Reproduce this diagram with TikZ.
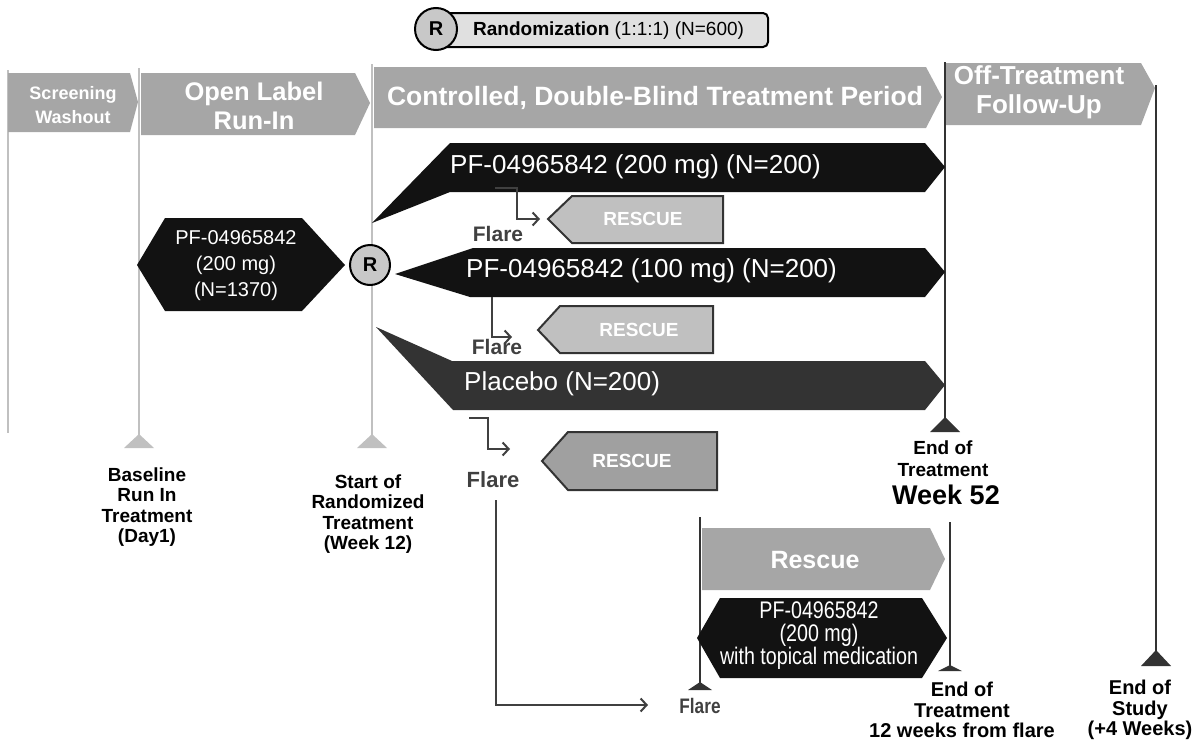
\documentclass[tikz,border=0pt]{standalone}
\usepackage{fontspec}
\setmainfont{Liberation Sans}
\newfontfamily\narrowfont[FakeStretch=0.82]{Liberation Sans}
\usetikzlibrary{arrows.meta}
\definecolor{hdr}{HTML}{A6A6A6}
\definecolor{vline}{HTML}{C0C0C0}
\definecolor{armblack}{HTML}{121212}
\definecolor{armdark}{HTML}{333333}
\definecolor{rescA}{HTML}{C0C0C0}
\definecolor{rescB}{HTML}{A0A0A0}
\definecolor{flaregray}{HTML}{404040}
\definecolor{pill}{HTML}{E0E0E0}
\definecolor{rcirc}{HTML}{C8C8C8}
\begin{document}
\begin{tikzpicture}[x=1pt,y=-1pt,
  hdrtxt/.style={text=white, font=\bfseries\fontsize{26.5}{30}\selectfont, align=center, inner sep=0pt},
  armtxt/.style={text=white, font=\fontsize{26}{30}\selectfont, anchor=west, inner sep=0pt},
  runtxt/.style={text=white, font=\fontsize{20}{26}\selectfont, align=center, inner sep=0pt},
  restxt/.style={text=white, font=\bfseries\fontsize{19}{22}\selectfont, inner sep=0pt},
  flaretxt/.style={text=flaregray, font=\bfseries\fontsize{21}{24}\selectfont, inner sep=0pt},
  lbl/.style={font=\bfseries\fontsize{19}{20.5}\selectfont, align=center, inner sep=0pt},
  lightline/.style={draw=vline, line width=2.5pt},
  darkline/.style={draw=armdark, line width=2pt},
  lighttri/.style={fill=vline},
  darktri/.style={fill=armdark},
  rescbox/.style={draw=armdark, line width=2pt},
  flarearrow/.style={draw=flaregray, line width=2pt, -{Straight Barb[length=6pt,width=13pt,line width=2pt]}},
  rnode/.style={circle, draw=black, line width=2pt, fill=rcirc, minimum size=42pt, inner sep=0pt, font=\bfseries\fontsize{20}{22}\selectfont}
]
\useasboundingbox (0,0) rectangle (1202,744);

% ---------- vertical timeline lines ----------
\draw[lightline] (8,70) -- (8,433);
\draw[lightline] (139,68) -- (139,436);
\fill[lighttri] (124,448) -- (154,448) -- (139,434) -- cycle;
\draw[lightline] (372,64) -- (372,436);
\fill[lighttri] (357,448) -- (387,448) -- (372,434) -- cycle;
\draw[darkline] (945,62) -- (945,419);
\fill[darktri] (930,432) -- (960,432) -- (945,417) -- cycle;
\draw[darkline] (1156,85) -- (1156,652);
\fill[darktri] (1141,666) -- (1171,666) -- (1156,650) -- cycle;

% ---------- header arrows ----------
\fill[hdr] (8,73) -- (130,73) -- (138,102) -- (130,132) -- (8,132) -- cycle;
\node[hdrtxt, font=\bfseries\fontsize{18}{24}\selectfont] (hscr) at (73,105) {Screening\\Washout};
\fill[hdr] (141,73) -- (355,73) -- (370,103) -- (355,135) -- (141,135) -- cycle;
\node[hdrtxt, font=\bfseries\fontsize{25.5}{29}\selectfont] (hrun) at (254,106) {Open Label\\Run-In};
\fill[hdr] (374,67) -- (926,67) -- (942,97) -- (926,128) -- (374,128) -- cycle;
\node[hdrtxt] (hctl) at (655,98) {Controlled, Double-Blind Treatment Period};
\fill[hdr] (946,63) -- (1141,63) -- (1155,88) -- (1141,125) -- (946,125) -- cycle;
\node[hdrtxt, font=\bfseries\fontsize{26}{29}\selectfont] (hoff) at (1039,92) {Off-Treatment\\Follow-Up};

% ---------- randomization pill ----------
\draw[line width=2pt, fill=pill, rounded corners=5pt] (440,13) rectangle (768,47);
\node[rnode] (rtop) at (436,29) {R};
\node[anchor=west, inner sep=0pt, font=\fontsize{19}{22}\selectfont] (rtxt) at (473,31) {\textbf{Randomization} (1:1:1) (N=600)};

% ---------- run-in hexagon ----------
\fill[armblack] (137,265) -- (165,218) -- (302,218) -- (345,265) -- (302,311) -- (165,311) -- cycle;
\node[runtxt] (runin) at (236,266) {PF-04965842\\(200 mg)\\(N=1370)};
\node[rnode, minimum size=40pt] (rmid) at (370,265) {R};

% ---------- treatment arms ----------
\fill[armblack] (450,143) -- (925,143) -- (945,167) -- (925,192) -- (450,192) -- (372,223) -- cycle;
\node[armtxt] (arm1) at (450,167) {PF-04965842 (200 mg) (N=200)};
\fill[armblack] (473,248) -- (925,248) -- (945,272) -- (925,297) -- (470,297) -- (395,274) -- cycle;
\node[armtxt] (arm2) at (466,271) {PF-04965842 (100 mg) (N=200)};
\fill[armdark] (376,327) -- (452,361) -- (925,361) -- (945,385) -- (925,410) -- (453,410) -- cycle;
\node[armtxt] (arm3) at (464,384) {Placebo (N=200)};

% ---------- rescue boxes ----------
\filldraw[rescbox, fill=rescA] (548,219) -- (572,196) -- (723,196) -- (723,243) -- (572,243) -- cycle;
\node[restxt] (res1) at (643,219) {RESCUE};
\filldraw[rescbox, fill=rescA] (538,330) -- (560,306) -- (713,306) -- (713,353) -- (560,353) -- cycle;
\node[restxt] (res2) at (639,330) {RESCUE};
\filldraw[rescbox, fill=rescB] (542,461) -- (568,432) -- (717,432) -- (717,490) -- (568,490) -- cycle;
\node[restxt] (res3) at (632,461) {RESCUE};

% ---------- flare arrows ----------
\coordinate (f1s) at (495,188);
\coordinate (f1e) at (540,219);
\draw[flarearrow] (f1s) -- (517,188) -- (517,219) -- (f1e);
\node[flaretxt] (fl1) at (498,234) {Flare};
\coordinate (f2s) at (492,297);
\coordinate (f2e) at (512,337);
\draw[flarearrow] (f2s) -- (492,337) -- (f2e);
\node[flaretxt] (fl2) at (497,347) {Flare};
\coordinate (f3s) at (469,418);
\coordinate (f3e) at (510,449);
\draw[flarearrow] (f3s) -- (488,418) -- (488,449) -- (f3e);
\node[flaretxt, font=\bfseries\fontsize{22}{24}\selectfont] (fl3) at (493,480) {Flare};
\coordinate (f4s) at (496,500);
\coordinate (f4e) at (648,705);
\draw[flarearrow] (f4s) -- (496,705) -- (f4e);

% ---------- rescue period ----------
\draw[darkline] (700,517) -- (700,684);
\fill[darktri] (688,690) -- (712,690) -- (700,682) -- cycle;
\draw[darkline] (950,522) -- (950,666);
\fill[darktri] (938,671) -- (962,671) -- (950,665) -- cycle;
\fill[hdr] (702,528) -- (930,528) -- (945,559) -- (930,590) -- (702,590) -- cycle;
\node[hdrtxt, font=\bfseries\fontsize{25}{30}\selectfont] (hres) at (815,560) {Rescue};
\fill[armblack] (697,638) -- (720,598) -- (922,598) -- (947,638) -- (922,678) -- (720,678) -- cycle;
\node[runtxt, font=\narrowfont\fontsize{24}{23}\selectfont] (resmed) at (819,636) {PF-04965842\\(200 mg)\\with topical medication};
\node[flaretxt, font=\narrowfont\bfseries\fontsize{21}{24}\selectfont] (fl4) at (700,706) {Flare};

% ---------- milestone labels ----------
\node[lbl] (mbase) at (147,507) {Baseline\\Run In\\Treatment\\(Day1)};
\node[lbl] (mstart) at (368,514) {Start of\\Randomized\\Treatment\\(Week 12)};
\node[lbl, font=\bfseries\fontsize{19}{22}\selectfont] (meot) at (943,459) {End of\\Treatment};
\node[font=\bfseries\fontsize{27}{30}\selectfont, inner sep=0pt] (mw52) at (946,495) {Week 52};
\node[lbl, font=\bfseries\fontsize{20}{20.5}\selectfont] (meotr) at (962,710) {End of\\Treatment\\12 weeks from flare};
\node[lbl, font=\bfseries\fontsize{20}{20.5}\selectfont] (meos) at (1140,710) {End of\\Study\\(+4 Weeks)};
\end{tikzpicture}
\end{document}
